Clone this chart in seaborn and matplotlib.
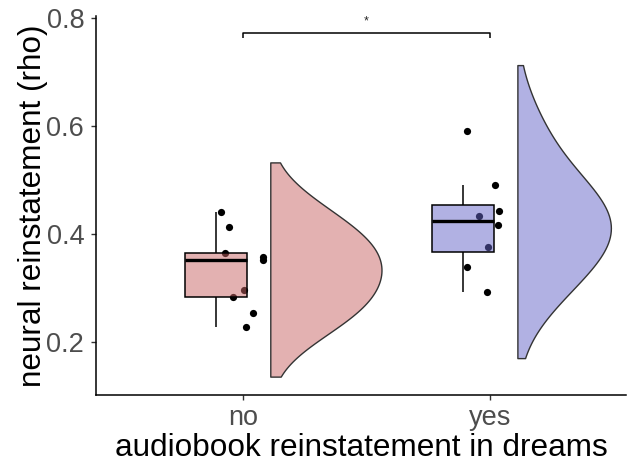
import numpy as np
import pandas as pd
import matplotlib
matplotlib.use("Agg")
import matplotlib.pyplot as plt
import seaborn as sns

# ---- data ----
categories = ["no", "yes"]
no_values = [0.228, 0.254, 0.283, 0.296, 0.351, 0.357, 0.364, 0.413, 0.4395]
yes_values = [0.292, 0.339, 0.376, 0.416, 0.433, 0.442, 0.490, 0.590]
colors = {"no": "#C96565", "yes": "#6565C9"}
sig_label = "*"
x_label = "audiobook reinstatement in dreams"
y_label = "neural reinstatement (rho)"
y_ticks = [0.2, 0.4, 0.6, 0.8]

df = pd.DataFrame({
    "group": ["no"] * len(no_values) + ["yes"] * len(yes_values),
    "value": no_values + yes_values,
})
df["pos"] = df["group"].map({c: i for i, c in enumerate(categories)}).astype(float)

BOX_SHIFT = -0.11
VIO_SHIFT = 0.11
VIO_WIDTH = 0.45
df["box_x"] = df["pos"] + BOX_SHIFT
# seaborn places a lone split half with its flat side at (position - width/2)
df["vio_x"] = df["pos"] + VIO_SHIFT + VIO_WIDTH / 2
df["side"] = "R"

sns.set_theme(style="white")
plt.rcParams["font.family"] = ["Liberation Sans", "DejaVu Sans"]

fig = plt.figure(figsize=(6.28, 4.62), dpi=100)
ax = fig.add_axes([0.153, 0.145, 0.844, 0.82])

# half violins (flat side on the left)
n_coll = len(ax.collections)
sns.violinplot(data=df, x="vio_x", y="value", hue="side", hue_order=["L", "R"],
               palette={"L": "white", "R": "grey"}, split=True, native_scale=True,
               dodge=False, inner=None, cut=1.55, bw_adjust=1.3, density_norm="area",
               width=VIO_WIDTH, linecolor="#333333", linewidth=1.0, saturation=1,
               legend=False, ax=ax)
for coll, g in zip(ax.collections[n_coll:], categories):
    coll.set_facecolor(matplotlib.colors.to_rgba(colors[g], 0.5))

# jittered points
np.random.seed(3)
sns.stripplot(data=df, x="pos", y="value", native_scale=True, jitter=0.1,
              color="black", size=5.2, linewidth=0, ax=ax, zorder=1)

# boxplots
n_patches_before = len(ax.patches)
sns.boxplot(data=df, x="box_x", y="value", hue="group", hue_order=categories,
            palette=colors, native_scale=True, dodge=False, width=0.25,
            showfliers=False, showcaps=False, linecolor="black", linewidth=1.1,
            saturation=1, medianprops=dict(linewidth=2.4, color="black"),
            legend=False, ax=ax)
for p in ax.patches[n_patches_before:]:
    c = p.get_facecolor()
    p.set_facecolor((c[0], c[1], c[2], 0.5))
    p.set_zorder(2)

# significance bracket
y_br = 0.771
tip = 0.009
ax.plot([0, 0, 1, 1], [y_br - tip, y_br, y_br, y_br - tip], color="black", lw=1.1,
        solid_capstyle="butt", clip_on=False)
ax.text(0.5, y_br + 0.012, sig_label, ha="center", va="bottom", fontsize=9)

ax.set_xlim(-0.595, 1.55)
ax.set_ylim(0.1013, 0.803)
ax.set_xticks(range(len(categories)))
ax.set_xticklabels(categories)
ax.set_yticks(y_ticks)
ax.set_yticklabels([f"{t:.1f}" for t in y_ticks])
ax.tick_params(axis="both", labelsize=19.5, labelcolor="#4D4D4D", color="#333333",
               length=3.6, width=1, direction="out", bottom=True, left=True)
ax.tick_params(axis="x", pad=3.8)
ax.tick_params(axis="y", pad=5.0)
ax.set_xlabel(x_label, fontsize=22.7, color="black")
ax.set_ylabel(y_label, fontsize=22.7, color="black")
ax.xaxis.set_label_coords(0.5, -0.100)
ax.yaxis.set_label_coords(-0.0906, 0.5)
for s in ["top", "right"]:
    ax.spines[s].set_visible(False)
for s in ["left", "bottom"]:
    ax.spines[s].set_color("black")
    ax.spines[s].set_linewidth(1.1)

fig.savefig("out.png", dpi=100)
